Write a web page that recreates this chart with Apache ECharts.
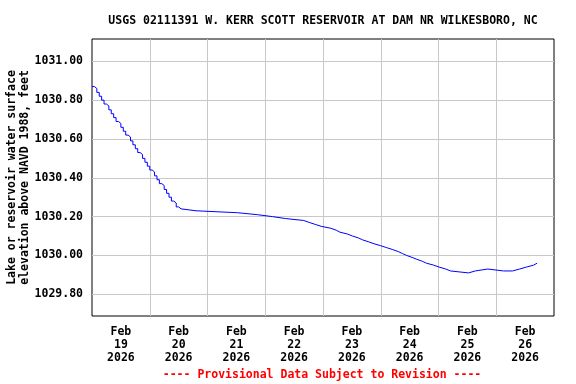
<!DOCTYPE html>
<html><head><meta charset="utf-8">
<script src="https://cdn.jsdelivr.net/npm/echarts@6/dist/echarts.min.js"></script>
<style>html,body{margin:0;padding:0;background:#fff}#c{width:576px;height:384px}</style>
</head><body><div id="c"></div>
<script>
// Hours since 2026-02-19 00:00 (change points of the gauge record)
const hours = [0,1,2,3,4,5,6,7,8,9,10,11,12,13,14,15,16,17,18,19,20,21,22,23,24,25,26,27,28,29,30,31,32,33,34,35,36,37,
  43.25,60.5,68.75,75,80.5,88,90.25,92.75,95.25,99.25,101.5,103,106.25,108.25,110.75,112.5,115,117.25,120,122.5,125,127.25,
  129,130.75,133,135,137.25,139,142,144.25,147,149,156.5,159.25,164.5,171,171.75,174.75,177.75,180.5,183.5,185];
// Lake or reservoir water surface elevation, feet
const elevation = [1030.87,1030.86,1030.84,1030.82,1030.80,1030.78,1030.77,1030.75,1030.73,1030.71,1030.69,1030.68,1030.66,
  1030.64,1030.62,1030.61,1030.59,1030.57,1030.55,1030.53,1030.52,1030.50,1030.48,1030.46,1030.44,1030.43,1030.41,1030.39,
  1030.37,1030.36,1030.34,1030.32,1030.30,1030.28,1030.27,1030.25,1030.24,1030.23,
  1030.22,1030.21,1030.20,1030.19,1030.18,1030.17,1030.16,1030.15,1030.14,1030.13,1030.12,1030.11,1030.10,1030.09,1030.08,
  1030.07,1030.06,1030.05,1030.04,1030.03,1030.02,1030.01,1030.00,1029.99,1029.98,1029.97,1029.96,1029.95,1029.94,1029.93,
  1029.92,1029.91,1029.92,1029.93,1029.92,1029.91,1029.92,1029.93,1029.94,1029.95,1029.96,1029.96];

const xDayStartHours = [24,48,72,96,120,144,168];
const xLabelHours = [12,36,60,84,108,132,156,180];
const xLabelDays = ['19','20','21','22','23','24','25','26'];
const xMonth = 'Feb';
const xYear = '2026';
const yTicks = [1029.8,1030.0,1030.2,1030.4,1030.6,1030.8,1031.0];

const titleText = 'USGS 02111391 W. KERR SCOTT RESERVOIR AT DAM NR WILKESBORO, NC';
const yName = 'Lake or reservoir water surface\nelevation above NAVD 1988, feet';
const footerText = '---- Provisional Data Subject to Revision ----';

const font = "'DejaVu Sans Mono', 'Liberation Mono', monospace";
const chart = echarts.init(document.getElementById('c'), null, {renderer: 'canvas'});
chart.setOption({
  animation: false,
  backgroundColor: '#ffffff',
  title: [
    {text: titleText, left: 318, top: 10, textAlign: 'center',
     textStyle: {fontFamily: font, fontWeight: 'bold', fontSize: 11.5, color: '#000'}},
    {text: footerText, left: 317, top: 364, textAlign: 'center',
     textStyle: {fontFamily: font, fontWeight: 'bold', fontSize: 11.5, color: '#ff0000'}}
  ],
  grid: {left: 92, top: 39, right: 22, bottom: 68, containLabel: false, outerBoundsMode: 'none',
         show: true, borderColor: '#000', borderWidth: 1, backgroundColor: '#fff'},
  xAxis: {
    type: 'value', min: 0, max: 192,
    axisLine: {show: false},
    axisTick: {show: false, customValues: xDayStartHours},
    splitLine: {show: true, lineStyle: {color: '#c8c8c8', width: 1}},
    axisLabel: {
      customValues: xLabelHours, margin: 10,
      fontFamily: font, fontWeight: 'bold', fontSize: 11.5, color: '#000', lineHeight: 13,
      formatter: function (v) { const i = xLabelHours.indexOf(v); return xMonth + '\n' + xLabelDays[i] + '\n' + xYear; }
    }
  },
  yAxis: {
    type: 'value', min: 1029.688, max: 1031.115,
    name: yName, nameLocation: 'middle', nameRotate: 90, nameGap: 60, nameMoveOverlap: false,
    nameTextStyle: {fontFamily: font, fontWeight: 'bold', fontSize: 11.5, color: '#000', lineHeight: 13},
    axisLine: {show: false},
    axisTick: {show: false, customValues: yTicks},
    splitLine: {show: true, lineStyle: {color: '#c8c8c8', width: 1}},
    axisLabel: {
      customValues: yTicks, margin: 9,
      fontFamily: font, fontWeight: 'bold', fontSize: 11.5, color: '#000',
      formatter: function (v) { return v.toFixed(2); }
    }
  },
  series: [{
    type: 'line', step: 'end', showSymbol: false, symbol: 'none',
    data: hours.map((h, i) => [h, elevation[i]]),
    lineStyle: {color: '#0000ff', width: 1}
  }]
});
</script></body></html>
